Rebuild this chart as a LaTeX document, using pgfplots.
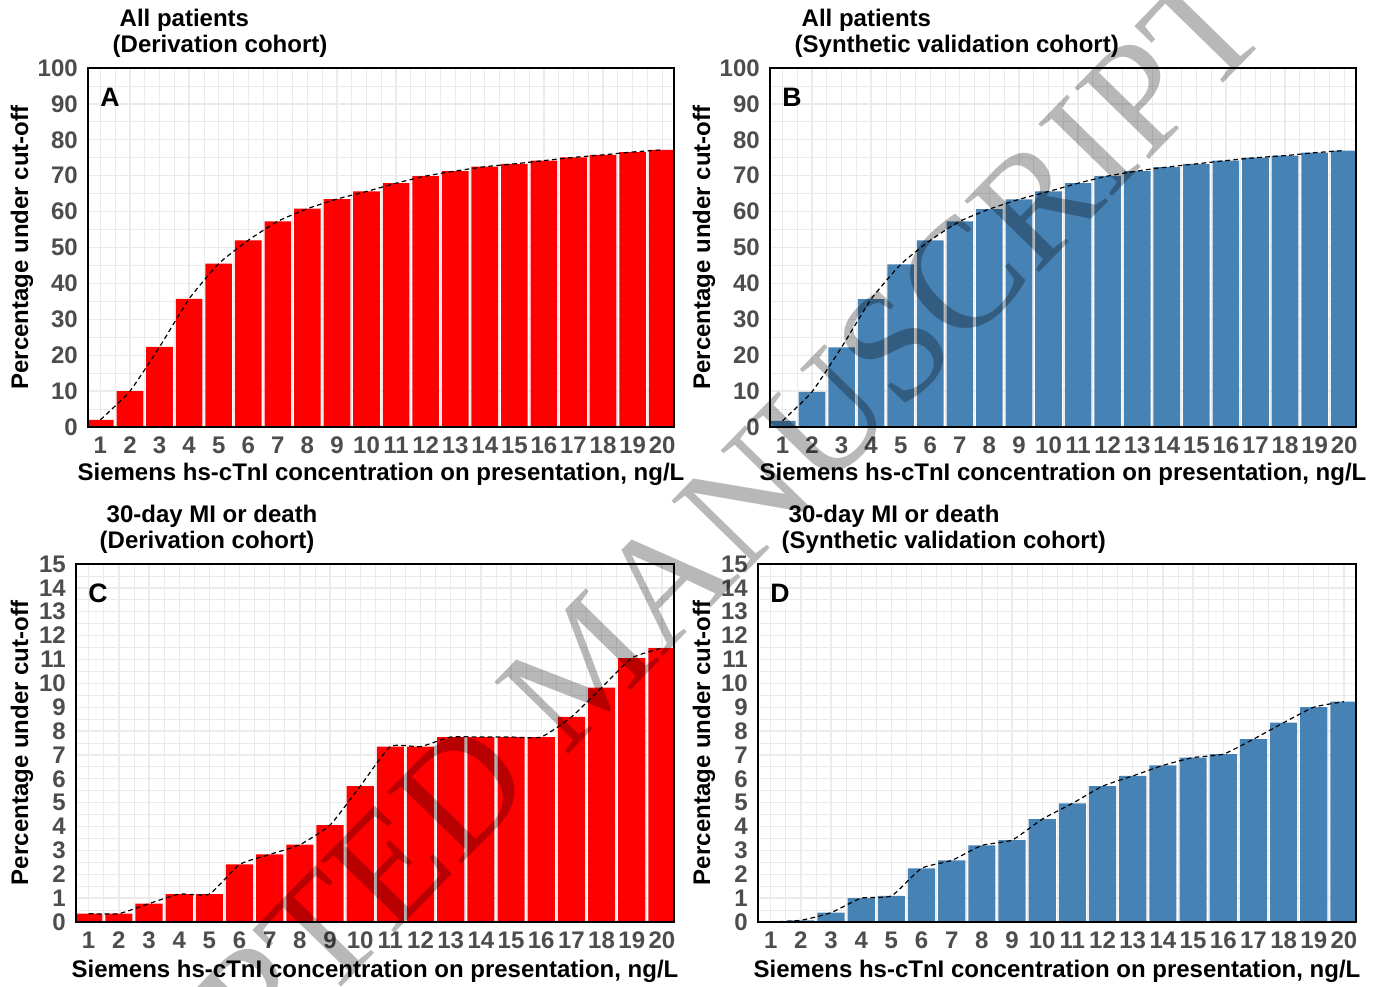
\documentclass[border=0pt]{standalone}
\usepackage{fontspec}
\setmainfont{Liberation Sans}
\newfontfamily\wmfont{Liberation Serif}
\usepackage{pgfplots}
\usepackage{pgfplotstable}
\pgfplotsset{compat=1.18}
\definecolor{barred}{HTML}{FF0000}
\definecolor{barblue}{HTML}{4682B4}
\definecolor{tickgray}{HTML}{4D4D4D}
\definecolor{gridgray}{HTML}{EBEBEB}
\newcommand\lblfont{\fontsize{18}{21}\selectfont\bfseries}
\newcommand\letfont{\fontsize{20}{24}\selectfont\bfseries}

\pgfplotstableread{
x y
1 2.0
2 10.0
3 22.3
4 35.7
5 45.5
6 52.0
7 57.3
8 60.8
9 63.5
10 65.6
11 67.9
12 69.9
13 71.3
14 72.5
15 73.3
16 74.2
17 75.1
18 75.8
19 76.6
20 77.2
}\dataA
\pgfplotstableread{
x y
1 1.7
2 9.8
3 22.2
4 35.6
5 45.3
6 52.0
7 57.3
8 60.7
9 63.4
10 65.6
11 67.9
12 69.9
13 71.3
14 72.4
15 73.3
16 74.2
17 75.0
18 75.6
19 76.4
20 77.0
}\dataB
\pgfplotstableread{
x y
1 0.35
2 0.35
3 0.77
4 1.17
5 1.17
6 2.41
7 2.83
8 3.24
9 4.06
10 5.69
11 7.35
12 7.35
13 7.75
14 7.75
15 7.75
16 7.75
17 8.59
18 9.82
19 11.06
20 11.48
}\dataC
\pgfplotstableread{
x y
1 0.0
2 0.07
3 0.39
4 1.00
5 1.09
6 2.25
7 2.58
8 3.21
9 3.43
10 4.31
11 4.97
12 5.69
13 6.12
14 6.56
15 6.89
16 7.03
17 7.66
18 8.35
19 9.00
20 9.23
}\dataD

\pgfplotsset{
  panel/.style={
    scale only axis, anchor=south west,
    xmin=0.58, xmax=20.4, ymin=0,
    xtick={1,...,20}, minor x tick num=1,
    minor y tick num=1,
    grid=both,
    major grid style={draw=gridgray, line width=1pt},
    minor grid style={draw=gridgray, line width=0.6pt},
    axis line style={black, line width=1.6pt},
    major tick length=0pt, minor tick length=0pt,
    tick style={draw=none},
    ticklabel style={font=\lblfont, text=tickgray, inner sep=0pt},
    /pgf/number format/assume math mode=true,
    xticklabel style={anchor=base, yshift=-20pt},
    yticklabel style={anchor=east, xshift=-7.5pt},
    after end axis/.code={\draw[black, line width=1.6pt] (rel axis cs:0,0) rectangle (rel axis cs:1,1);},
  },
  bigpanel/.style={panel, width=439.5pt, height=269.25pt, ymax=100, ytick={0,10,...,100}},
  smallpanel/.style={panel, width=448.5pt, height=268.5pt, ymax=15, ytick={0,1,...,15}},
  bars/.style={ybar, bar width=0.9, fill=#1, draw=none},
  trend/.style={black, dash pattern=on 3.5pt off 2.5pt, line width=0.9pt, smooth, tension=0.3, mark=none},
}

\begin{document}
\begin{tikzpicture}
\useasboundingbox (0,0) rectangle (1038.75pt,739.5pt);

\begin{axis}[bigpanel, at={(66pt,419.25pt)}]
  \addplot[bars=barred] table[x=x,y=y] {\dataA};
  \addplot[trend] table[x=x,y=y] {\dataA};
\end{axis}

\begin{axis}[bigpanel, at={(577.5pt,419.25pt)}]
  \addplot[bars=barblue] table[x=x,y=y] {\dataB};
  \addplot[trend] table[x=x,y=y] {\dataB};
\end{axis}

\begin{axis}[smallpanel, at={(57pt,48pt)}]
  \addplot[bars=barred] table[x=x,y=y] {\dataC};
  \addplot[trend] table[x=x,y=y] {\dataC};
\end{axis}

\begin{axis}[smallpanel, at={(568.5pt,48pt)}]
  \addplot[bars=barblue] table[x=x,y=y] {\dataD};
  \addplot[trend] table[x=x,y=y] {\dataD};
\end{axis}

\begin{scope}[x=0.75pt, y=-0.75pt, yshift=739.5pt]
  % titles
  \node[anchor=base west, font=\lblfont] at (115,27) {All patients};
  \node[anchor=base west, font=\lblfont] at (108,53) {(Derivation cohort)};
  \node[anchor=base west, font=\lblfont] at (797,27) {All patients};
  \node[anchor=base west, font=\lblfont] at (790,53) {(Synthetic validation cohort)};
  \node[anchor=base west, font=\lblfont] at (102,523) {30-day MI or death};
  \node[anchor=base west, font=\lblfont] at (95,549) {(Derivation cohort)};
  \node[anchor=base west, font=\lblfont] at (784,523) {30-day MI or death};
  \node[anchor=base west, font=\lblfont] at (777,549) {(Synthetic validation cohort)};
  % x labels
  \node[anchor=base, font=\lblfont] at (381,481) {Siemens hs-cTnI concentration on presentation, ng/L};
  \node[anchor=base, font=\lblfont] at (1063,481) {Siemens hs-cTnI concentration on presentation, ng/L};
  \node[anchor=base, font=\lblfont] at (375,977) {Siemens hs-cTnI concentration on presentation, ng/L};
  \node[anchor=base, font=\lblfont] at (1057,977) {Siemens hs-cTnI concentration on presentation, ng/L};
  % y labels
  \node[rotate=90, font=\lblfont] at (22,247.5) {Percentage under cut-off};
  \node[rotate=90, font=\lblfont] at (704,247.5) {Percentage under cut-off};
  \node[rotate=90, font=\lblfont] at (22,743) {Percentage under cut-off};
  \node[rotate=90, font=\lblfont] at (704,743) {Percentage under cut-off};
  % panel letters
  \node[anchor=base west, font=\letfont, inner sep=0pt] at (100,107) {A};
  \node[anchor=base west, font=\letfont, inner sep=0pt] at (782,107) {B};
  \node[anchor=base west, font=\letfont, inner sep=0pt] at (88,603) {C};
  \node[anchor=base west, font=\letfont, inner sep=0pt] at (770,603) {D};
\end{scope}

% watermark
\node[rotate=45.7, text=black, text opacity=0.28, font={\wmfont\fontsize{118}{118}\selectfont}, inner sep=0pt] at (438.75pt,241.5pt) {ACCEPTED MANUSCRIPT};
\end{tikzpicture}
\end{document}
